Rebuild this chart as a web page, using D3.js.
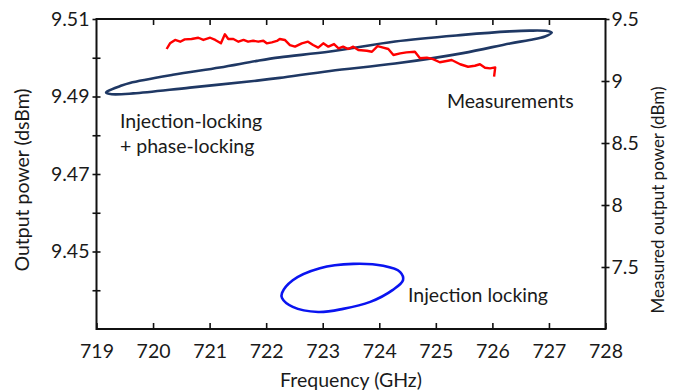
<!DOCTYPE html>
<html>
<head>
<meta charset="utf-8">
<script src="https://cdn.jsdelivr.net/npm/d3@7/dist/d3.min.js"></script>
<style>
  html, body { margin: 0; padding: 0; background: #fff; }
  svg text { font-family: Lato, "Open Sans", sans-serif; fill: #1a1a1a; }
</style>
</head>
<body>
<svg id="chart" width="683" height="392"></svg>
<script>
// Frequency axis (GHz)
const freqTicks = [719, 720, 721, 722, 723, 724, 725, 726, 727, 728];
// Left axis: simulated output power (dsBm)
const leftTicks = [9.44, 9.45, 9.46, 9.47, 9.48, 9.49, 9.50, 9.51];
const leftLabels = [9.51, 9.49, 9.47, 9.45];
// Right axis: measured output power (dBm)
const rightTicks = [7.5, 8, 8.5, 9, 9.5];

// Injection-locking + phase-locking loop (freq, dsBm)
const lockFreq = [719.20, 719.42, 719.59, 720.35, 721.18, 721.84, 722.24, 723.13, 724.28, 725.48, 726.31, 726.66, 726.97, 727.05,
                  726.93, 726.66, 726.31, 725.48, 724.28, 723.13, 722.24, 721.84, 720.65, 719.65, 719.27, 719.17];
const lockPower = [9.4914, 9.4927, 9.4935, 9.4956, 9.4975, 9.4992, 9.5001, 9.5016, 9.5042, 9.5059, 9.5068, 9.5070, 9.5069, 9.5065,
                   9.5055, 9.5046, 9.5037, 9.5012, 9.4985, 9.4966, 9.4948, 9.4941, 9.4923, 9.4908, 9.4906, 9.4910];

// Injection locking only loop (freq, dsBm)
const injFreq = [722.28, 722.47, 722.95, 723.54, 724.07, 724.37, 724.42, 724.24, 723.84, 723.36, 722.92, 722.47, 722.28];
const injPower = [9.4393, 9.4426, 9.4457, 9.4468, 9.4463, 9.4447, 9.4426, 9.4401, 9.4370, 9.4352, 9.4344, 9.4357, 9.4380];

// Measured output power (freq, dBm)
const measFreq = [720.24, 720.30, 720.39, 720.48, 720.56, 720.68, 720.80, 720.89, 721.01, 721.10, 721.20, 721.27, 721.33, 721.42,
                  721.51, 721.60, 721.68, 721.77, 721.86, 721.95, 722.01, 722.10, 722.19, 722.24, 722.33, 722.42, 722.51, 722.63,
                  722.74, 722.83, 722.92, 723.01, 723.10, 723.20, 723.28, 723.36, 723.45, 723.54, 723.63, 723.78, 723.87, 723.97,
                  724.07, 724.16, 724.25, 724.37, 724.48, 724.63, 724.72, 724.84, 724.95, 725.07, 725.19, 725.28, 725.43, 725.57,
                  725.69, 725.78, 725.87, 725.96, 726.05, 726.03];
const measPower = [9.258, 9.304, 9.331, 9.317, 9.336, 9.339, 9.349, 9.331, 9.349, 9.331, 9.304, 9.377, 9.339, 9.339,
                   9.317, 9.331, 9.317, 9.325, 9.317, 9.325, 9.304, 9.312, 9.323, 9.339, 9.331, 9.290, 9.277, 9.304,
                   9.317, 9.290, 9.269, 9.304, 9.277, 9.298, 9.264, 9.277, 9.258, 9.277, 9.250, 9.244, 9.236, 9.282,
                   9.269, 9.258, 9.210, 9.223, 9.231, 9.236, 9.183, 9.188, 9.177, 9.151, 9.161, 9.169, 9.135, 9.115,
                   9.123, 9.135, 9.107, 9.102, 9.110, 9.035];

const svg = d3.select("#chart");
const plotLeft = 96.5, plotRight = 605.5, plotTop = 19, plotBottom = 329;

const x = d3.scaleLinear().domain([719, 728]).range([plotLeft, plotRight]);
const yL = d3.scaleLinear().domain([9.43, 9.51]).range([plotBottom, plotTop]);
const yR = d3.scaleLinear().domain([7.0, 9.5]).range([plotBottom, plotTop]);

const fontSize = 19.5;

// Bottom axis: inward ticks with labels below
svg.append("g").attr("transform", `translate(0,${plotBottom})`)
  .call(d3.axisBottom(x).tickValues(freqTicks).tickSizeInner(-6).tickSizeOuter(0).tickPadding(15).tickFormat(d3.format("d")));
// Top axis: inward ticks, no labels
svg.append("g").attr("transform", `translate(0,${plotTop})`)
  .call(d3.axisTop(x).tickValues(freqTicks.slice(1, -1)).tickSizeInner(-6).tickSizeOuter(0).tickFormat(""));

// Left axis: ticks crossing the frame
const fmtL = d => leftLabels.some(v => Math.abs(v - d) < 1e-6) ? d3.format(".2f")(d) : "";
svg.append("g").attr("transform", `translate(${plotLeft},0)`)
  .call(d3.axisLeft(yL).tickValues(leftTicks).tickSizeInner(4).tickSizeOuter(0).tickPadding(3).tickFormat(fmtL));
svg.append("g").attr("transform", `translate(${plotLeft},0)`)
  .call(d3.axisLeft(yL).tickValues(leftTicks.slice(0, -1)).tickSizeInner(-4).tickSizeOuter(0).tickFormat(""));

// Right axis: ticks crossing the frame
svg.append("g").attr("transform", `translate(${plotRight},0)`)
  .call(d3.axisRight(yR).tickValues(rightTicks).tickSizeInner(4).tickSizeOuter(0).tickPadding(2).tickFormat(d => String(d)));
svg.append("g").attr("transform", `translate(${plotRight},0)`)
  .call(d3.axisRight(yR).tickValues(rightTicks.slice(0, -1)).tickSizeInner(-4).tickSizeOuter(0).tickFormat(""));

svg.selectAll(".domain").remove();
svg.selectAll(".tick line").attr("stroke", "#111").attr("stroke-width", 1.6);
svg.selectAll(".tick text").attr("font-size", fontSize).attr("font-family", "Lato, sans-serif").attr("fill", "#1a1a1a");

// Plot frame
svg.append("rect")
  .attr("x", plotLeft).attr("y", plotTop)
  .attr("width", plotRight - plotLeft).attr("height", plotBottom - plotTop)
  .attr("fill", "none").attr("stroke", "#111").attr("stroke-width", 2);

// Curves
const lockPts = lockFreq.map((f, i) => [f, lockPower[i]]);
const injPts = injFreq.map((f, i) => [f, injPower[i]]);
const measPts = measFreq.map((f, i) => [f, measPower[i]]);

const lineL = d3.line().x(d => x(d[0])).y(d => yL(d[1]));

svg.append("path")
  .attr("d", lineL.curve(d3.curveCatmullRomClosed)(lockPts))
  .attr("fill", "none").attr("stroke", "#1f3864").attr("stroke-width", 2.6);

svg.append("path")
  .attr("d", lineL.curve(d3.curveCatmullRomClosed)(injPts))
  .attr("fill", "none").attr("stroke", "#0a14f0").attr("stroke-width", 2.6);

const lineR = d3.line().x(d => x(d[0])).y(d => yR(d[1])).curve(d3.curveLinear);
svg.append("path")
  .attr("d", lineR(measPts))
  .attr("fill", "none").attr("stroke", "#ff0000").attr("stroke-width", 2.4)
  .attr("stroke-linejoin", "round");

// Annotations
const note = (tx, ty, s) => svg.append("text").attr("x", tx).attr("y", ty)
  .attr("font-size", fontSize).text(s);
note(120, 128, "Injection-locking");
note(120, 153, "+ phase-locking");
note(447, 108, "Measurements");
note(408, 302, "Injection locking");

// Axis titles
svg.append("text").attr("x", (plotLeft + plotRight) / 2).attr("y", 387)
  .attr("text-anchor", "middle").attr("font-size", fontSize).text("Frequency (GHz)");
svg.append("text").attr("transform", "translate(29,180) rotate(-90)")
  .attr("text-anchor", "middle").attr("font-size", fontSize).text("Output power (dsBm)");
svg.append("text").attr("transform", "translate(664,200) rotate(-90)")
  .attr("text-anchor", "middle").attr("font-size", 17).text("Measured output power (dBm)");
</script>
</body>
</html>
